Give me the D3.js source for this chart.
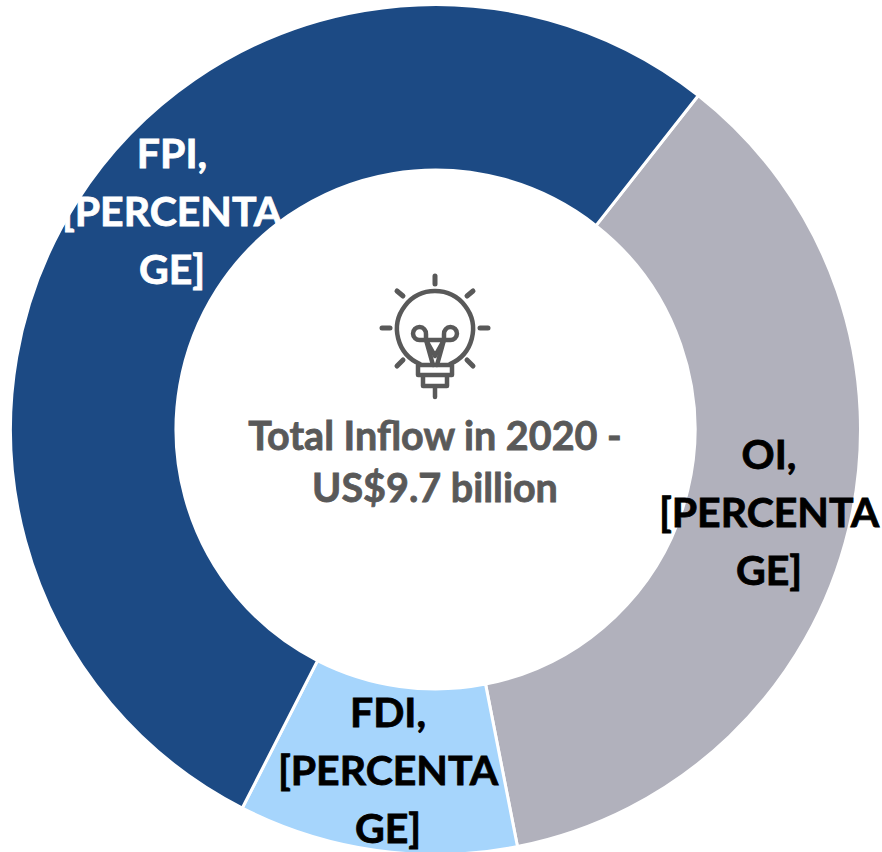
<!DOCTYPE html>
<html>
<head>
<meta charset="utf-8">
<script src="https://cdn.jsdelivr.net/npm/d3@7"></script>
<style>
  body { margin: 0; background: #fff; }
  text { font-family: Lato, "Open Sans", sans-serif; font-weight: 700; stroke-width: 0.8px; }
</style>
</head>
<body>
<div id="chart"></div>
<script>
const categories = ["OI", "FDI", "FPI"];
const shares = [36.3, 10.6, 53.1];
const sliceColors = ["#b1b1bc", "#a6d5fc", "#1c4a84"];
const labelColors = ["#000000", "#000000", "#ffffff"];
const centerLines = ["Total Inflow in 2020 -", "US$9.7 billion"];

const width = 882, height = 852;
// the white slice stroke eats 1.5px off each edge of the ring
const cx = 435.5, cy = 429.5, outer = 425, inner = 259.5;

const svg = d3.select("#chart").append("svg")
    .attr("width", width)
    .attr("height", height)
    .style("display", "block");

const g = svg.append("g").attr("transform", `translate(${cx},${cy})`);

// first slice starts at the top right, around 38 deg
const pie = d3.pie().sort(null).value(d => d)
    .startAngle(38.2 * Math.PI / 180)
    .endAngle((38.2 + 360) * Math.PI / 180);
const arc = d3.arc().innerRadius(inner).outerRadius(outer);

g.selectAll("path")
    .data(pie(shares))
    .join("path")
    .attr("d", arc)
    .attr("fill", (d, i) => sliceColors[i])
    .attr("stroke", "#fff")
    .attr("stroke-width", 3);

// labels wrap the way the original does
const labelX = [769, 388, 172];
const labelY = [468.5, 727, 168];
categories.forEach((c, i) => {
    const t = svg.append("text")
        .attr("text-anchor", "middle")
        .attr("font-size", 41)
        .attr("fill", labelColors[i])
        .attr("stroke", labelColors[i]);
    [c + ",", "[PERCENTA", "GE]"].forEach((s, k) => {
        t.append("tspan")
            .attr("x", labelX[i])
            .attr("y", labelY[i] + k * 58)
            .text(s);
    });
});

svg.selectAll(".center")
    .data(centerLines)
    .join("text")
    .attr("class", "center")
    .attr("x", 435)
    .attr("y", (d, i) => 450 + i * 51.5)
    .attr("text-anchor", "middle")
    .attr("font-size", 39.5)
    .attr("fill", "#595959")
    .attr("stroke", "#595959")
    .text(d => d);

// bulb icon
const icon = svg.append("g")
    .attr("transform", "translate(435,328)")
    .attr("fill", "none")
    .attr("stroke", "#595959")
    .attr("stroke-width", 4.5)
    .attr("stroke-linecap", "round")
    .attr("stroke-linejoin", "round");
icon.append("path").attr("d", "M-15,36 A38,38 0 1 1 15,36");
icon.append("path").attr("d", "M-9,12 H-15 A6.5,6.5 0 1 1 -9,6 V12 L0,28 L9,12 V6 A6.5,6.5 0 1 1 15,12 H-9");
icon.append("path").attr("d", "M-9,12 L-2,37 M9,12 L2,37");
icon.append("path").attr("d", "M-17,37 H17 V47 H-17 Z M-12,47 V58 H12 V47 M0,58 V69");
[[0,-52,0,-44],[-38,-37,-32,-32],[38,-37,32,-32],[-53,0,-45,0],[53,0,45,0],[-38,38,-32,32],[38,38,32,32]].forEach(l => {
    icon.append("line").attr("x1", l[0]).attr("y1", l[1]).attr("x2", l[2]).attr("y2", l[3]).attr("stroke-width", 5);
});
</script>
</body>
</html>
